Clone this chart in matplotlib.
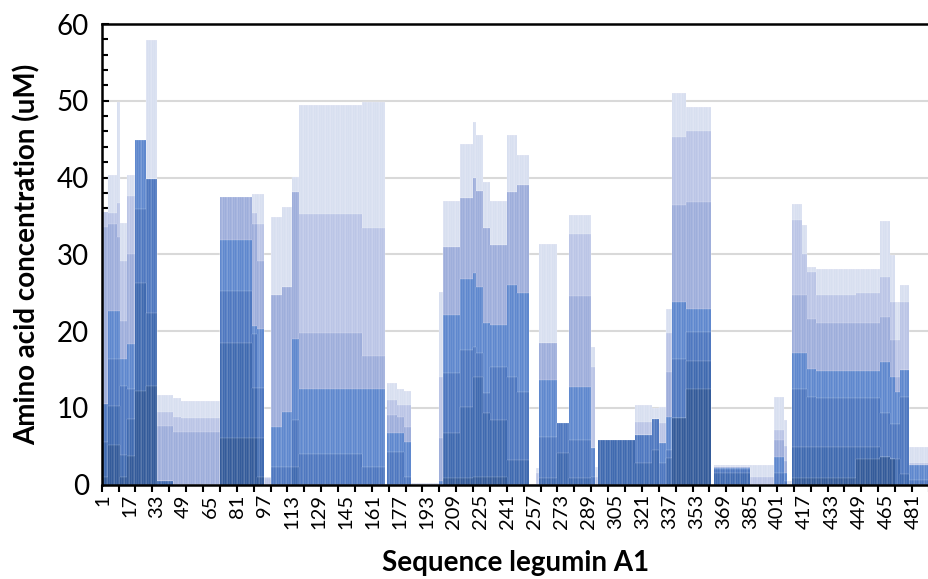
import matplotlib
matplotlib.use("Agg")
import matplotlib.pyplot as plt
import numpy as np

plt.rcParams['font.family'] = ['Lato', 'DejaVu Sans']

# residue ranges (first residue of each run), legumin A1 has 490 positions
seg_start = [1, 5, 10, 12, 16, 21, 27, 34, 43, 48, 71, 90, 93, 97, 101, 108, 114, 118,
             155, 169, 170, 176, 180, 184, 201, 203, 213, 221, 223, 227, 231, 241, 247,
             254, 258, 260, 271, 278, 291, 293, 295, 317, 327, 331, 335, 339, 347, 362,
             364, 385, 399, 405, 407, 410, 416, 419, 424, 448, 462, 468, 471, 474, 479]
n_res = 490

# concentration (uM) of each overlapping series, highest to lowest
lv1 = [35.5, 40.3, 49.9, 34.1, 40.3, 44.9, 57.9, 11.7, 11.3, 10.9, 37.4, 37.8, 37.9, 1.0,
       34.9, 36.2, 40.1, 49.4, 49.8, 0, 13.2, 12.5, 12.2, 0.2, 25.1, 37.0, 44.4, 47.2,
       45.5, 39.4, 37.0, 45.5, 42.9, 0, 2.1, 31.4, 8.0, 35.1, 17.9, 2.3, 5.8, 10.4, 10.0,
       10.1, 22.9, 51.0, 49.2, 0, 2.5, 2.5, 11.4, 8.4, 0.5, 36.5, 33.8, 28.4, 28.1, 28.1,
       34.3, 29.9, 23.8, 26.0, 4.9]
lv2 = [35.5, 35.4, 36.7, 29.1, 37.6, 44.9, 39.8, 9.4, 8.8, 8.7, 37.4, 35.4, 33.9, 0.8,
       24.7, 25.8, 38.1, 35.3, 33.4, 0, 11.0, 10.4, 10.4, 0, 14.0, 31.0, 37.3, 39.9,
       38.3, 33.4, 31.2, 38.1, 39.0, 0, 1.5, 18.4, 8.0, 32.7, 15.3, 1.0, 5.8, 8.2, 8.6,
       8.0, 19.7, 45.3, 46.0, 0, 2.3, 1.0, 7.1, 5.0, 0, 34.5, 30.0, 27.7, 24.7, 24.9,
       27.0, 23.8, 18.8, 23.8, 2.8]
lv3 = [33.5, 33.9, 32.2, 21.3, 30.0, 44.9, 39.8, 7.6, 6.8, 6.8, 37.4, 33.9, 29.1, 0,
       24.7, 25.8, 38.1, 19.7, 16.7, 0, 9.0, 8.8, 7.5, 0, 6.0, 31.0, 37.3, 39.9,
       38.3, 33.4, 31.2, 38.1, 39.0, 0, 0, 18.4, 8.0, 24.5, 4.7, 0, 5.8, 6.4, 8.6,
       5.4, 14.7, 36.4, 36.8, 0, 2.3, 0, 5.8, 3.0, 0, 24.7, 24.7, 21.6, 21.0, 21.0,
       21.8, 18.8, 14.0, 14.9, 2.5]
lv4 = [10.5, 22.6, 22.6, 16.3, 18.3, 44.9, 39.8, 0.5, 0, 0, 31.8, 20.7, 20.2, 0,
       7.5, 9.5, 19.0, 12.5, 12.5, 0, 6.7, 6.7, 5.5, 0, 0.5, 22.1, 26.8, 27.5,
       25.8, 21.0, 20.8, 26.0, 24.9, 0, 0, 13.6, 8.0, 12.7, 4.7, 0, 5.8, 6.4, 8.6,
       5.4, 8.8, 23.8, 22.9, 0, 2.1, 0, 3.6, 1.5, 0, 17.1, 17.1, 15.0, 14.8, 14.8,
       16.0, 14.0, 12.0, 14.9, 2.5]
lv5 = [10.5, 16.3, 16.3, 12.8, 12.4, 35.9, 39.8, 0.5, 0, 0, 25.2, 19.6, 12.6, 0,
       2.3, 2.3, 8.4, 4.0, 2.3, 0, 4.3, 4.3, 1.0, 0, 0, 14.5, 17.5, 17.9,
       17.1, 11.9, 15.3, 14.0, 12.1, 0, 0, 6.2, 8.0, 5.8, 1.0, 0, 5.8, 6.4, 8.6,
       2.8, 4.5, 16.4, 19.9, 0, 2.0, 0, 1.5, 0.5, 0, 12.5, 12.5, 11.4, 11.3, 11.3,
       9.3, 7.9, 7.9, 11.4, 0.6]
lv6 = [5.5, 10.2, 10.2, 3.9, 8.5, 26.3, 22.4, 0.5, 0, 0, 18.5, 12.6, 6.1, 0,
       0, 0, 2.3, 0, 0, 0, 0, 0, 0, 0, 0, 6.7, 10.1, 14.0,
       14.0, 9.3, 8.4, 3.2, 3.2, 0, 0, 0.8, 4.1, 0.8, 0, 0, 5.8, 2.8, 4.5,
       0, 3.4, 8.7, 16.1, 0, 1.5, 0, 0, 0, 0, 4.9, 4.9, 4.9, 4.9, 4.9,
       3.6, 3.3, 3.3, 1.4, 0]
lv7 = [1.0, 5.2, 5.2, 1.0, 3.7, 12.2, 12.8, 0, 0, 0, 6.1, 6.1, 1.0, 0,
       0, 0, 0, 0, 0, 0, 0, 0, 0, 0, 0, 0.8, 0.8, 1.0,
       1.0, 1.0, 1.0, 0, 0, 0, 0, 0, 0, 0, 0, 0, 0, 0, 0,
       0, 0, 8.7, 12.5, 0, 0, 0, 0, 0, 0, 0.8, 0.8, 0.8, 0.8, 3.3,
       3.6, 3.3, 0, 0, 0]

colors = ['#d5dcef', '#b4c0e4', '#95a6d8', '#4f7cc9', '#3d6bba', '#2d5ba8', '#1f4b90']

runs = np.diff(seg_start + [n_res + 1])
pos = np.arange(1, n_res + 1)
levels = np.array([np.repeat(v, runs) for v in [lv1, lv2, lv3, lv4, lv5, lv6, lv7]])
levels = -np.sort(-levels, axis=0)

fig = plt.figure(figsize=(9.29, 5.79), dpi=100)
ax = fig.add_axes([0.1093, 0.1632, 0.8907, 0.7953])

for k in range(levels.shape[0]):
    ax.bar(pos, levels[k], width=1.0, color=colors[k],
           edgecolor=(1, 1, 1, 0.45), linewidth=0.3, zorder=2)

ax.set_xlim(0.4, 490.6)
ax.set_ylim(0, 60)
ax.set_yticks(np.arange(0, 61, 10))
ax.set_yticks(np.arange(0, 61, 2), minor=True)
ax.yaxis.grid(True, color='#d9d9d9', linewidth=1.5, zorder=0)
ax.set_axisbelow(True)

ax.set_xticks(np.arange(1, n_res + 1, 16))
ax.set_xticks(np.arange(0.5, n_res + 1, 10), minor=True)
ax.tick_params(axis='x', which='major', length=0, labelsize=14.5, labelrotation=90, pad=7)
ax.tick_params(axis='x', which='minor', length=5, width=1.5, direction='out')
ax.tick_params(axis='y', which='major', length=5, width=1.5, direction='in', labelsize=20, pad=9)
ax.tick_params(axis='y', which='minor', length=4.5, width=1.5, direction='in')

for s in ['left', 'bottom', 'top']:
    ax.spines[s].set_linewidth(1.8)
    ax.spines[s].set_color('black')
ax.spines['right'].set_visible(False)

ax.set_xlabel('Sequence legumin A1', fontsize=20, fontweight='bold', labelpad=15)
ax.set_ylabel('Amino acid concentration (uM)', fontsize=20, fontweight='bold', labelpad=12)

fig.savefig('out.png', dpi=100)
